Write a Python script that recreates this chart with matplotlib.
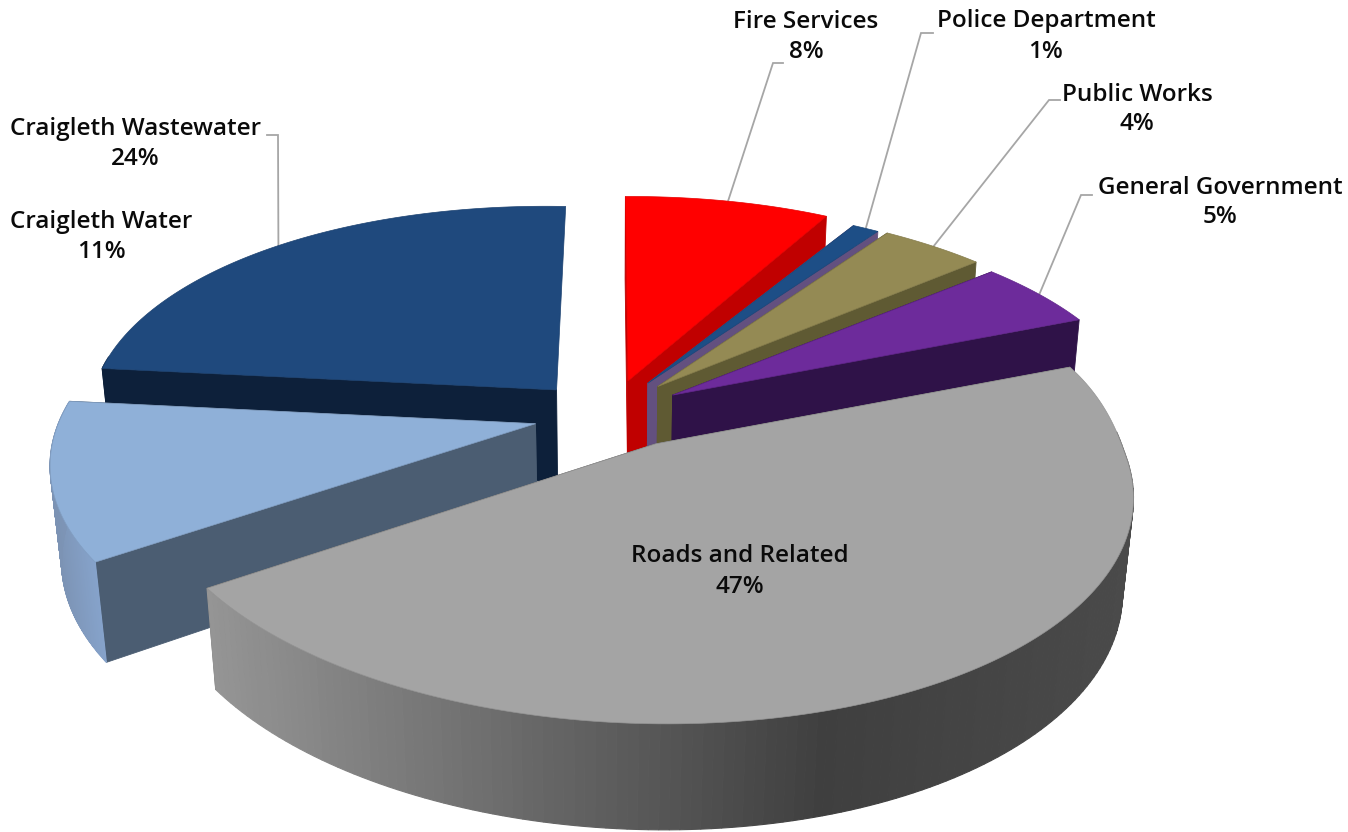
import numpy as np
import matplotlib
matplotlib.use("Agg")
import matplotlib.pyplot as plt
from matplotlib.colors import LinearSegmentedColormap, to_rgb
from matplotlib.patches import Polygon

# Budget shares, clockwise from twelve o'clock
names = ["Fire Services", "Police Department", "Public Works", "General Government",
         "Roads and Related", "Craigleth Water", "Craigleth Wastewater"]
shares = [8, 1, 4, 5, 47, 11, 24]

top_colors = ["#FF0000", "#1D4E86", "#948A54", "#6D2B9B", "#A4A4A4", "#8FB0D8", "#1F497D"]
wall_colors = ["#C00000", "#63507F", "#5F5A33", "#2F1248", "#606060", "#4B5D72", "#0D203A"]
rim_ramps = {4: ["#959595", "#6A6A6A", "#3F3F3F", "#4A4A4A"],
             5: ["#7C93B4", "#86A3CB"]}

# Label anchors (centre x, name line y, percent line y) and leader elbows
label_pos = [(806, 22, 52), (1046, 21, 52), (1137, 95, 124), (1220, 188, 217),
             (740, 556, 587), (101, 222, 252), (135, 129, 159)]
leaders = {0: [(773, 63), (783, 63)], 1: [(921, 33), (933, 33)],
           2: [(1049, 100), (1060, 100)], 3: [(1081, 195), (1092, 195)],
           6: [(278, 135), (267, 135)]}

# Camera model for the tilted disc
CX, CY = 609.0, 413.0
FOCAL = 476.0
SQUASH = 0.466
PERSP = 0.16
DEPTH = 95.0
DEPTH_PERSP = 0.02
EXPLODE = 0.164
SHEAR = 0.02

# Per-slice refinements of the projected outline:
# apex offset, arc offset, back-of-arc flare (with its falloff) and horizontal skew
apex_shift = [(0, 2), (0, 0), (0, 0), (0, 1), (6, -2), (2, 2), (0, 4)]
arc_shift = [(0, 0), (-3, 0), (0, 0), (0, 0), (-11, 0), (8, 3), (7, 5)]
flare = [(0.02, -0.02), (0.08, 0.01), (0.067, 0.005), (0.07, 0.02), (0.2, 0.05), (0, 0), (0, 0)]
flare_power = [1, 1, 1, 1, 1.6, 1, 1]
skew = [0, 0, 0, 0, 0, 0.035, -0.0105]
# Radial faces that stay out of sight: (slice, end of arc)
hidden_faces = {(6, 1)}


def project(x, y, z=0.0):
    """Map disc coordinates to pixels; z=0 is the top face and z=1 the underside."""
    x, y = np.asarray(x, float), np.asarray(y, float)
    w = 1 + PERSP * y + DEPTH_PERSP * z
    return (CX + FOCAL * x / w,
            CY + (-FOCAL * SQUASH * y + DEPTH * z + SHEAR * FOCAL * x) / w)


def arc_point(i, ox, oy, a, z=0.0):
    """Pixel position of a point on the outer arc of slice i."""
    rx, ry = np.sin(a), np.cos(a)
    px, py = project(ox + rx, oy + ry, z)
    back = np.maximum(ry, 0) ** flare_power[i] * rx * FOCAL
    return (px + arc_shift[i][0] + flare[i][0] * back + skew[i] * ry * FOCAL,
            py + arc_shift[i][1] + flare[i][1] * back)


def apex_point(i, ox, oy, z=0.0):
    px, py = project(ox, oy, z)
    return px + apex_shift[i][0], py + apex_shift[i][1]


fig = plt.figure(figsize=(13.48, 8.32), dpi=100, facecolor="white")
ax = fig.add_axes([0, 0, 1, 1])
ax.set_xlim(0, 1348)
ax.set_ylim(832, 0)
ax.axis("off")

edges = np.radians(np.cumsum([0] + shares) * 3.6)
draw_order = [0, 1, 2, 3, 6, 5, 4]


def poly(xs, ys, color, z, lw=0.6, edge=None):
    ax.add_patch(Polygon(np.column_stack([xs, ys]), closed=True, facecolor=color,
                         edgecolor=edge or color, linewidth=lw, zorder=z))


for rank, i in enumerate(draw_order):
    a0, a1 = edges[i], edges[i + 1]
    mid = (a0 + a1) / 2
    ox, oy = EXPLODE * np.sin(mid), EXPLODE * np.cos(mid)
    t = np.linspace(a0, a1, 160)
    z = 10 + rank

    # Radial side faces
    for end, a in enumerate((a0, a1)):
        if (i, end) in hidden_faces:
            continue
        p0 = apex_point(i, ox, oy, 0)
        p1 = arc_point(i, ox, oy, a, 0)
        p2 = arc_point(i, ox, oy, a, 1)
        p3 = apex_point(i, ox, oy, 1)
        poly([p0[0], p1[0], p2[0], p3[0]], [p0[1], p1[1], p2[1], p3[1]], wall_colors[i], z)

    # Outer rim, shaded along the arc where it faces the viewer
    front = np.cos(t) < 0.12
    if front.sum() > 1:
        ts = t[front]
        cmap = LinearSegmentedColormap.from_list("rim", rim_ramps.get(i, [wall_colors[i]] * 2))
        tx, ty = arc_point(i, ox, oy, ts, 0)
        bx, by = arc_point(i, ox, oy, ts, 1)
        span = np.ptp(tx) or 1.0
        for k in range(len(ts) - 1):
            shade = cmap((0.5 * (tx[k] + tx[k + 1]) - tx.min()) / span)
            poly([tx[k], tx[k + 1], bx[k + 1], bx[k]], [ty[k], ty[k + 1], by[k + 1], by[k]],
                 shade, z, lw=0.8)

    # Top face
    ux, uy = arc_point(i, ox, oy, t, 0)
    ax0, ay0 = apex_point(i, ox, oy, 0)
    dark = tuple(0.9 * c for c in to_rgb(top_colors[i]))
    poly(np.r_[ax0, ux], np.r_[ay0, uy], top_colors[i], z + 0.5, lw=0.5, edge=dark)

    # Leader from the arc midpoint to the label
    if i in leaders:
        lx, ly = arc_point(i, ox, oy, mid, 0)
        ex, ey = zip(*leaders[i])
        ax.plot([lx, *ex], [ly, *ey], color="#A6A6A6", lw=1.3, zorder=5, solid_joinstyle="miter")

font = dict(family=["Open Sans", "DejaVu Sans"], weight="semibold", fontsize=17.5, color="#0A0A0A",
            ha="center", va="center", zorder=40)
for name, share, (x, y0, y1) in zip(names, shares, label_pos):
    ax.text(x, y0, name, **font)
    ax.text(x, y1, f"{share}%", **font)

fig.savefig("out.png", dpi=100, facecolor="white")
